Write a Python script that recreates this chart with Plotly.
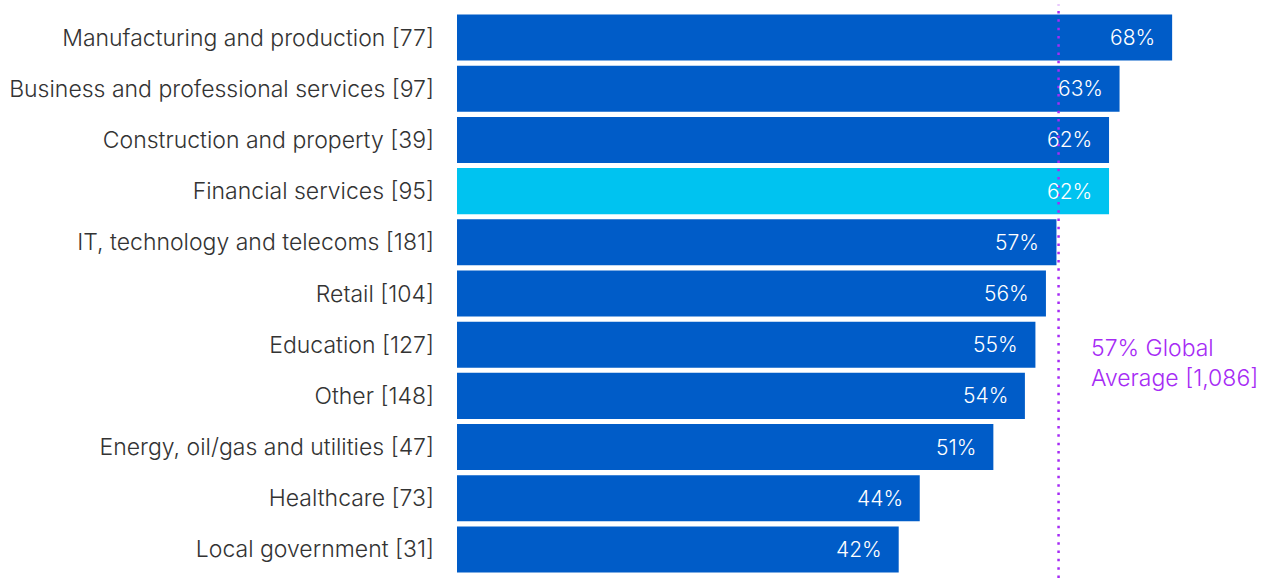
import plotly.graph_objects as go

categories = [
    "Manufacturing and production [77]",
    "Business and professional services [97]",
    "Construction and property [39]",
    "Financial services [95]",
    "IT, technology and telecoms [181]",
    "Retail [104]",
    "Education [127]",
    "Other [148]",
    "Energy, oil/gas and utilities [47]",
    "Healthcare [73]",
    "Local government [31]",
]
values = [68, 63, 62, 62, 57, 56, 55, 54, 51, 44, 42]
highlight = "Financial services [95]"
global_avg = 57.2
avg_label = "57% Global<br>Average [1,086]"

DARK = "#005CC8"
LIGHT = "#00C3F0"
PURPLE = "#A62BF5"
FONT = "Inter"

colors = [LIGHT if c == highlight else DARK for c in categories]

fig = go.Figure()
fig.add_trace(go.Bar(
    x=values, y=categories, orientation="h",
    marker=dict(color=colors, line=dict(width=0)),
    hoverinfo="skip",
))

for c, v in zip(categories, values):
    fig.add_annotation(
        x=v, y=c, xref="x", yref="y", text=f"{v}%",
        showarrow=False, xanchor="right", xshift=-15,
        font=dict(family=FONT, size=21, color="#FFFFFF", weight=300),
    )

fig.add_shape(
    type="line", xref="x", yref="paper",
    x0=global_avg, x1=global_avg, y0=-0.02, y1=1.013,
    line=dict(color=PURPLE, width=2.5, dash="2.5px,5.8px"),
    layer="above",
)
fig.add_annotation(
    x=global_avg, y=categories[6], xref="x", yref="y",
    text=avg_label, showarrow=False, xanchor="left", xshift=30,
    align="left", font=dict(family=FONT, size=23, color=PURPLE, weight=300),
    yshift=-18,
)

fig.update_layout(
    width=1271, height=579,
    margin=dict(l=457, r=0, t=12, b=4),
    paper_bgcolor="white", plot_bgcolor="white",
    bargap=0.1, showlegend=False,
    font=dict(family=FONT, size=23, color="#333333", weight=300),
    xaxis=dict(range=[0, 77.4], visible=False, fixedrange=True),
    yaxis=dict(
        categoryorder="array", categoryarray=categories[::-1],
        showgrid=False, zeroline=False, showline=False,
        ticks="", ticklabelstandoff=22,
        tickfont=dict(family=FONT, size=23, color="#333333", weight=300),
    ),
)

fig.write_html("out.html")
